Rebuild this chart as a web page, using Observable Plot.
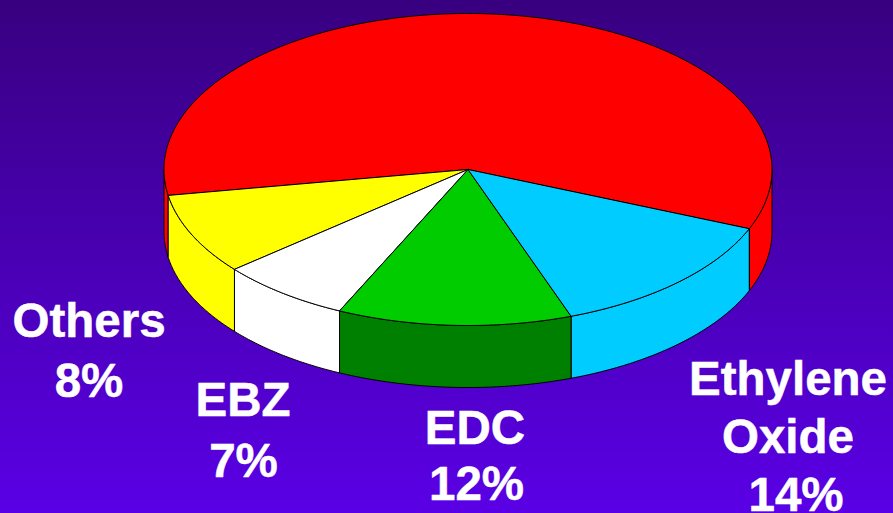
<!DOCTYPE html>
<html>
<head>
<meta charset="utf-8">
<script src="https://cdn.jsdelivr.net/npm/d3@7"></script>
<script src="https://cdn.jsdelivr.net/npm/@observablehq/plot@0.6"></script>
<style>html,body{margin:0;padding:0;overflow:hidden;background:#4a00b0}svg{display:block}</style>
</head>
<body>
<div id="chart"></div>
<script>
// Data
const categories = ["Ethylene Oxide", "EDC", "EBZ", "Others", "Rest"];
const labelledPercent = [14, 12, 7, 8, null];
const drawnShares = [13.3, 12.45, 7.0, 8.4, 58.85];   // size of each wedge as actually drawn
const topColors = ["#00ccff", "#00cc00", "#ffffff", "#ffff00", "#ff0000"];
const sideColors = ["#00ccff", "#008000", "#ffffff", "#ffff00", "#ff0000"];

// Layout
const W = 893, H = 513;
const cx = 467.5, cy = 169, rx = 304, ry = 156, depth = 62;
const startDeg = 22.3;
const labelLines = [
  {text: "Others", x: 88.5, y: 321},
  {text: labelledPercent[3] + "%", x: 88.5, y: 381},
  {text: "EBZ", x: 242.5, y: 400},
  {text: labelledPercent[2] + "%", x: 243, y: 461},
  {text: "EDC", x: 474.5, y: 428},
  {text: labelledPercent[1] + "%", x: 476, y: 484},
  {text: "Ethylene", x: 787.5, y: 379},
  {text: "Oxide", x: 787.5, y: 437},
  {text: labelledPercent[0] + "%", x: 795.5, y: 495}
];

const total = d3.sum(drawnShares);
const at = (deg, dz = 0) => ({
  x: cx + rx * Math.cos(deg * Math.PI / 180),
  y: cy + ry * Math.sin(deg * Math.PI / 180) + dz
});
const arc = (a0, a1, dz = 0) => {
  const n = Math.max(2, Math.ceil(Math.abs(a1 - a0) * 2));
  return d3.range(n + 1).map(i => at(a0 + (a1 - a0) * i / n, dz));
};

let a = startDeg;
const wedges = categories.map((name, i) => {
  const a0 = a, a1 = a + drawnShares[i] / total * 360;
  a = a1;
  return {name, a0, a1, top: topColors[i], side: sideColors[i]};
});

const rows = [];
const addShape = (id, color, pts) => {
  pts.concat(pts[0]).forEach(p => rows.push({id, color, x: p.x, y: p.y}));
};
const wall = (id, color, a0, a1) =>
  addShape(id, color, arc(a0, a1).concat(arc(a1, a0, depth)));

// side walls: only the front half (0 to 180 degrees) can be seen
const rest = wedges[4];
wall("wall-rest-right", rest.side, 0, startDeg);
wall("wall-rest-left", rest.side, wedges[3].a1, 180);
wedges.slice(0, 4).forEach(w => wall("wall-" + w.name, w.side, w.a0, w.a1));
// top faces
[wedges[4], wedges[3], wedges[2], wedges[1], wedges[0]].forEach(w =>
  addShape("top-" + w.name, w.top, [{x: cx, y: cy}].concat(arc(w.a0, w.a1)))
);

const plot = Plot.plot({
  width: W,
  height: H,
  margin: 0,
  x: {type: "linear", domain: [0, W], range: [0, W], axis: null},
  y: {type: "linear", domain: [0, H], range: [0, H], axis: null},
  color: {type: "identity"},
  style: {background: "linear-gradient(to bottom, #380080 0%, #5a00e6 100%)"},
  marks: [
    Plot.line(rows, {
      x: "x", y: "y", z: "id", fill: "color",
      stroke: "#000", strokeWidth: 1, strokeLinejoin: "round", curve: "linear"
    }),
    Plot.text(labelLines, {
      x: "x", y: "y", text: "text", textAnchor: "middle",
      fontFamily: "'Liberation Sans', Arial, sans-serif",
      fontWeight: "bold", fontSize: 47.5, fill: "#ffffff",
      stroke: "#ffffff", strokeWidth: 0.5
    })
  ]
});
document.getElementById("chart").appendChild(plot);
</script>
</body>
</html>
